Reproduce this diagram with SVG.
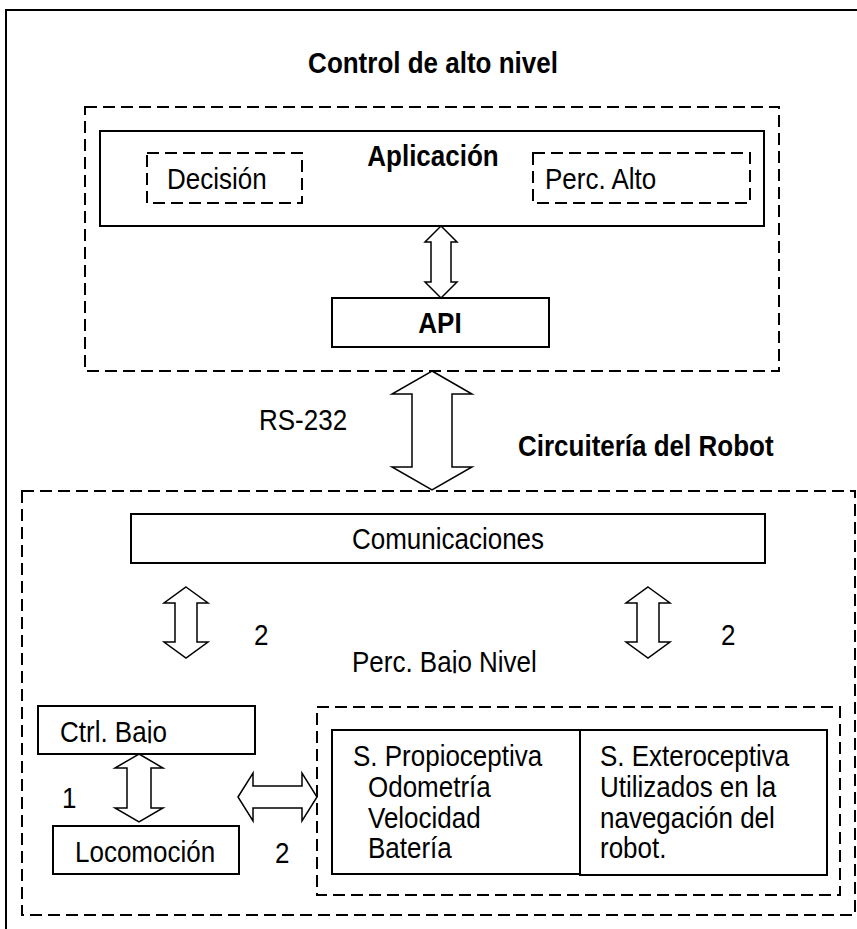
<svg xmlns="http://www.w3.org/2000/svg" width="857" height="929" viewBox="0 0 857 929">
<defs>
<clipPath id="cpPerc"><rect x="340" y="630" width="220" height="43"/></clipPath>
<clipPath id="cpCtrl"><rect x="50" y="700" width="200" height="43"/></clipPath>
</defs>
<style>
.box{fill:#fff;stroke:#000;stroke-width:2}
.dash{fill:none;stroke:#000;stroke-width:2;stroke-dasharray:12,6}
.arr{fill:#fff;stroke:#000;stroke-width:1.5}
text{font-family:"Liberation Sans",Arial,sans-serif;font-size:26px;fill:#000}
.b{font-weight:bold}
.c{text-anchor:middle}
</style>
<rect x="0" y="0" width="857" height="929" fill="#fff"/>
<rect x="6" y="10" width="900" height="1000" fill="none" stroke="#000" stroke-width="2"/>
<text class="b c" x="433" y="73" transform="translate(0,73) scale(1,1.15) translate(0,-73)">Control de alto nivel</text>
<g id="alto"><rect class="dash" x="85" y="107" width="694" height="264"/></g>
<g id="aplicacion"><rect class="box" x="100" y="131" width="664" height="95"/><text class="b c" x="433" y="166" transform="translate(0,166) scale(1,1.15) translate(0,-166)">Aplicación</text></g>
<g id="decision"><rect class="dash" x="147" y="153" width="155" height="50"/><text x="167" y="189" transform="translate(0,189) scale(1,1.15) translate(0,-189)">Decisión</text></g>
<g id="percalto"><rect class="dash" x="533" y="153" width="217" height="50"/><text x="545" y="189" transform="translate(0,189) scale(1,1.15) translate(0,-189)">Perc. Alto</text></g>
<g id="api"><rect class="box" x="332" y="298" width="217" height="49"/><text class="b c" x="440" y="333" transform="translate(0,333) scale(1,1.15) translate(0,-333)">API</text></g>
<text x="259" y="430" transform="translate(0,430) scale(1,1.15) translate(0,-430)">RS-232</text>
<text class="b" x="518" y="456" transform="translate(0,456) scale(1,1.15) translate(0,-456)">Circuitería del Robot</text>
<g id="robot"><rect class="dash" x="22" y="491" width="833" height="424"/></g>
<g id="comunicaciones"><rect class="box" x="131" y="514" width="634" height="49"/><text class="c" x="448" y="549" transform="translate(0,549) scale(1,1.15) translate(0,-549)">Comunicaciones</text></g>
<text x="254" y="645" transform="translate(0,645) scale(1,1.15) translate(0,-645)">2</text>
<text x="721" y="645" transform="translate(0,645) scale(1,1.15) translate(0,-645)">2</text>
<text x="352" y="672" clip-path="url(#cpPerc)" transform="translate(0,672) scale(1,1.15) translate(0,-672)">Perc. Bajo Nivel</text>
<g id="ctrlbajo"><rect class="box" x="38" y="706" width="217" height="48"/><text x="60" y="742" clip-path="url(#cpCtrl)" transform="translate(0,742) scale(1,1.15) translate(0,-742)">Ctrl. Bajo</text></g>
<text x="62" y="808" transform="translate(0,808) scale(1,1.15) translate(0,-808)">1</text>
<g id="locomocion"><rect class="box" x="53" y="826" width="186" height="48"/><text x="75" y="862" transform="translate(0,862) scale(1,1.15) translate(0,-862)">Locomoción</text></g>
<text x="275" y="863" transform="translate(0,863) scale(1,1.15) translate(0,-863)">2</text>
<g id="percbajo"><rect class="dash" x="317" y="707" width="523" height="188"/></g>
<g id="propio"><rect class="box" x="332" y="730" width="248" height="144"/>
<text x="353" y="766" transform="translate(0,766) scale(1,1.15) translate(0,-766)">S. Propioceptiva</text>
<text x="368" y="797" transform="translate(0,797) scale(1,1.15) translate(0,-797)">Odometría</text>
<text x="368" y="828" transform="translate(0,828) scale(1,1.15) translate(0,-828)">Velocidad</text>
<text x="368" y="858" transform="translate(0,858) scale(1,1.15) translate(0,-858)">Batería</text></g>
<g id="extero"><rect class="box" x="580" y="730" width="247" height="145"/>
<text x="600" y="766" transform="translate(0,766) scale(1,1.15) translate(0,-766)">S. Exteroceptiva</text>
<text x="600" y="797" transform="translate(0,797) scale(1,1.15) translate(0,-797)">Utilizados en la</text>
<text x="600" y="828" transform="translate(0,828) scale(1,1.15) translate(0,-828)">navegación del</text>
<text x="600" y="858" transform="translate(0,858) scale(1,1.15) translate(0,-858)">robot.</text></g>
<g id="connectors">
<polygon class="arr" points="441,226 457,242 451,242 451,282 457,282 441,298 425,282 431,282 431,242 425,242"/>
<polygon class="arr" points="432,371 472,394 452,394 452,467 472,467 432,490 392,467 412,467 412,394 392,394"/>
<polygon class="arr" points="186,587 208,603 197,603 197,642 208,642 186,658 164,642 175,642 175,603 164,603"/>
<polygon class="arr" points="648,587 670,603 659,603 659,642 670,642 648,658 626,642 637,642 637,603 626,603"/>
<polygon class="arr" points="139,754 163,768 151,768 151,808 163,808 139,822 115,808 127,808 127,768 115,768"/>
<polygon class="arr" points="238,797 253,773 253,786 302,786 302,773 317,797 302,821 302,808 253,808 253,821"/>
</g>
</svg>
